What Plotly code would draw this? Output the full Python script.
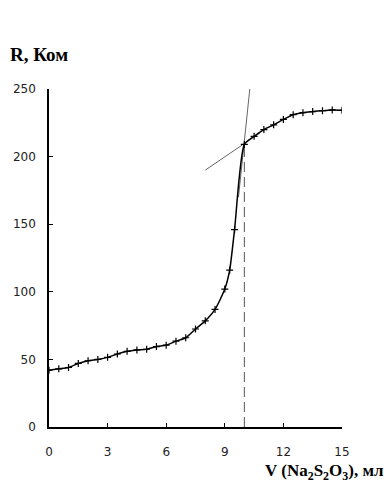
import plotly.graph_objects as go

volume = [0, 0.5, 1.0, 1.5, 2.0, 2.5, 3.0, 3.5, 4.0, 4.5, 5.0, 5.5, 6.0, 6.5, 7.0, 7.5,
          8.0, 8.5, 9.0, 9.25, 9.5, 10.0, 10.5, 11.0, 11.5, 12.0, 12.5, 13.0, 13.5, 14.0, 14.5, 15.0]
resistance = [42, 43, 44, 47, 49, 50, 51.5, 54, 56, 57, 57.5, 59.5, 60.5, 63.5, 66, 72.5,
              78.5, 87, 102, 116, 146, 209, 215, 220, 223.5, 227.5, 231, 232.5, 233.3, 234, 234.5, 234.3]

tangent1_x = [8.0, 10.8]
tangent1_y = [190, 217.5]
tangent2_x = [9.7, 10.28]
tangent2_y = [170, 250]
equiv_x = [10, 10]
equiv_y = [0, 209]

x_ticks = [0, 3, 6, 9, 12, 15]
y_ticks = [0, 50, 100, 150, 200, 250]

L, R, T, B = 49, 45, 89, 59
W, H = 387, 486
pw, ph = W - L - R, H - T - B


def px_to_paper(px, py):
    return (px - L) / pw, 1 - (py - T) / ph


fig = go.Figure()
fig.add_trace(go.Scatter(x=equiv_x, y=equiv_y, mode="lines",
                         line=dict(color="#555", width=1, dash="10px,5px"), hoverinfo="skip"))
fig.add_trace(go.Scatter(x=tangent1_x, y=tangent1_y, mode="lines",
                         line=dict(color="#666", width=1), hoverinfo="skip"))
fig.add_trace(go.Scatter(x=tangent2_x, y=tangent2_y, mode="lines",
                         line=dict(color="#666", width=1), hoverinfo="skip"))
fig.add_trace(go.Scatter(x=volume, y=resistance, mode="lines+markers",
                         line=dict(color="black", width=1.5, shape="spline", smoothing=0.6),
                         marker=dict(symbol="cross-thin", size=5, color="black",
                                     line=dict(color="black", width=1.2))))

ax, ay = px_to_paper(8, 55)
bx, by = px_to_paper(386, 472)

tickfont = dict(family="DejaVu Sans", size=12, color="#222")
fig.update_layout(
    width=W, height=H,
    margin=dict(l=L, r=R, t=T, b=B),
    paper_bgcolor="white", plot_bgcolor="white",
    showlegend=False,
    xaxis=dict(range=[0, 15], tickvals=x_ticks, ticks="inside", ticklen=4, tickcolor="black",
               showline=True, linecolor="black", linewidth=1.5, showgrid=False, zeroline=False,
               tickfont=tickfont, ticklabelstandoff=13),
    yaxis=dict(range=[0, 250], tickvals=y_ticks, ticks="inside", ticklen=4, tickcolor="black",
               showline=True, linecolor="black", linewidth=1.5, showgrid=False, zeroline=False,
               tickfont=tickfont, ticklabelstandoff=9),
    annotations=[
        dict(text="R, Ком", x=ax, y=ay, xref="paper", yref="paper",
             xanchor="left", yanchor="middle", showarrow=False,
             font=dict(family="Liberation Serif", size=19, color="black", weight="bold")),
        dict(text="V (Na<sub>2</sub>S<sub>2</sub>O<sub>3</sub>), мл", x=bx, y=by,
             xref="paper", yref="paper", xanchor="right", yanchor="middle", showarrow=False,
             font=dict(family="Liberation Serif", size=17, color="black", weight="bold")),
    ],
)

fig.write_html("out.html")
